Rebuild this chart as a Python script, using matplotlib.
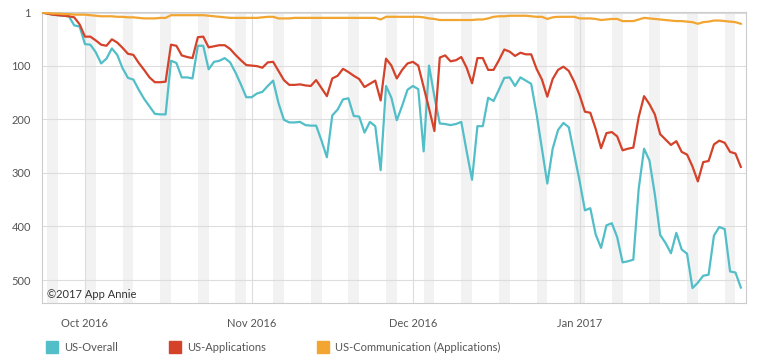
import matplotlib
matplotlib.use("Agg")
import matplotlib.pyplot as plt
import matplotlib.dates as mdates
from matplotlib.lines import Line2D
import pandas as pd

plt.rcParams['font.family'] = ['Lato', 'DejaVu Sans']

# daily ranks, 23 Sep 2016 .. 31 Jan 2017
start = '2016-09-23'

overall = [1, 3, 5, 6, 7, 8, 25, 27, 60, 61,
           75, 96, 87, 68, 80, 105, 123, 126, 145, 162,
           176, 190, 191, 191, 91, 95, 122, 122, 124, 63,
           63, 107, 93, 91, 86, 94, 113, 135, 159, 159,
           152, 149, 138, 128, 170, 201, 206, 206, 205, 211,
           212, 212, 240, 271, 193, 182, 163, 161, 194, 195,
           225, 205, 213, 295, 138, 160, 202, 175, 145, 138,
           144, 260, 100, 158, 208, 209, 211, 209, 205, 260,
           313, 213, 213, 160, 166, 145, 123, 122, 138, 122,
           128, 134, 190, 255, 320, 255, 220, 207, 215, 265,
           315, 370, 366, 415, 440, 398, 394, 420, 467, 465,
           462, 330, 255, 277, 340, 416, 431, 450, 412, 443,
           451, 515, 505, 492, 490, 417, 401, 405, 484, 486, 514]

applications = [1, 3, 5, 6, 7, 8, 10, 23, 46, 46,
                53, 61, 63, 51, 57, 67, 78, 80, 95, 108,
                122, 131, 131, 130, 61, 63, 81, 84, 86, 47,
                46, 66, 64, 62, 62, 69, 80, 90, 99, 100,
                101, 104, 94, 93, 110, 127, 136, 136, 135, 137,
                138, 127, 142, 157, 124, 119, 106, 112, 119, 125,
                140, 134, 128, 165, 87, 100, 124, 108, 96, 93,
                100, 140, 180, 222, 85, 81, 92, 90, 84, 104,
                133, 86, 86, 108, 108, 90, 70, 74, 82, 76,
                79, 79, 106, 126, 158, 125, 108, 102, 110, 130,
                155, 186, 188, 218, 254, 226, 224, 232, 258, 255,
                253, 196, 157, 172, 191, 228, 238, 248, 241, 261,
                266, 288, 316, 280, 278, 247, 240, 244, 261, 264, 289]

communication = [1, 2, 3, 3, 4, 4, 5, 5, 5,
                 6, 7, 8, 8, 8, 9, 9, 10, 10,
                 11, 12, 12, 12, 11, 11,
                 6, 6, 6, 6, 6, 6, 6, 7, 8, 9,
                 10, 11, 11, 11, 11, 11, 11, 10, 9, 9,
                 12, 12, 12, 11, 11, 11, 11, 11, 11, 11,
                 11, 11, 11, 11, 11, 11, 11, 11, 11, 14,
                 9, 9, 9, 9, 9, 9, 9, 10, 12, 13,
                 15, 15, 15, 15, 15, 15, 15, 14, 14, 12,
                 9, 8, 8, 7, 7, 7, 7, 8, 9, 9,
                 13, 10, 9, 9, 9, 9, 12, 12, 12, 13,
                 15, 14, 13, 13, 17, 17, 17, 14, 11, 12,
                 13, 14, 15, 16, 17, 17, 18, 19, 22, 19,
                 18, 16, 16, 17, 18, 19, 22]

names = ['US-Overall', 'US-Applications', 'US-Communication (Applications)']
colors = ['#52bec8', '#d4422a', '#f2a530']
yticks = [1, 100, 200, 300, 400, 500]
month_ticks = ['2016-10-01', '2016-11-01', '2016-12-01', '2017-01-01']

dates = pd.date_range(start, periods=len(overall), freq='D')

fig = plt.figure(figsize=(7.63, 3.63), dpi=100)
ax = fig.add_axes([0.055, 0.165, 0.923, 0.802])

# weekend bands
for d in dates:
    if d.dayofweek == 5:
        ax.axvspan(d, d + pd.Timedelta(days=2), color='#f2f2f2', lw=0, zorder=0)

for s, c in zip([overall, applications, communication], colors):
    ax.plot(dates, s, color=c, lw=1.6, zorder=3)

ax.set_ylim(543, 0)
ax.set_xlim(dates[0], dates[-1] + pd.Timedelta(days=1))
ax.set_yticks(yticks)
ax.set_xticks(pd.to_datetime(month_ticks))
ax.xaxis.set_major_formatter(mdates.DateFormatter('%b %Y'))
ax.grid(True, color='#dddddd', lw=0.8, zorder=1)
ax.set_axisbelow(True)
ax.tick_params(length=0, labelsize=8, colors='#555555', pad=8)
ax.tick_params(axis='x', pad=11)
for sp in ax.spines.values():
    sp.set_color('#cccccc')
    sp.set_linewidth(0.8)

ax.text(0.007, 0.012, '\u00a92017 App Annie', transform=ax.transAxes,
        fontsize=8, color='#333333', va='bottom', ha='left')

handles = [Line2D([], [], marker='s', ls='none', markersize=8.5, color=c) for c in colors]
fig.legend(handles, names, loc='lower left', bbox_to_anchor=(0.048, 0.0),
           ncol=3, frameon=False, fontsize=8, handletextpad=0.6,
           columnspacing=4.6, labelcolor='#555555', handlelength=1.0)

fig.savefig('out.png', dpi=100)
